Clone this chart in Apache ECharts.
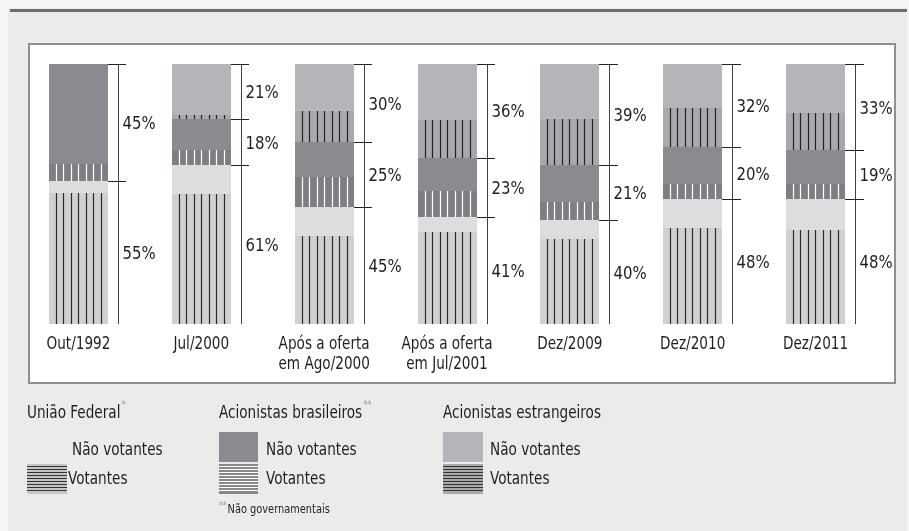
<!DOCTYPE html>
<html>
<head>
<meta charset="utf-8">
<script src="https://cdn.jsdelivr.net/npm/echarts@6/dist/echarts.min.js"></script>
<style>
html,body{margin:0;padding:0;background:#f6f6f6;}
#c{width:909px;height:531px;}
</style>
</head>
<body>
<div id="c"></div>
<script>
// ---- Data (percent of total capital) ----
const categories = ['Out/1992', 'Jul/2000', 'Após a oferta\nem Ago/2000', 'Após a oferta\nem Jul/2001', 'Dez/2009', 'Dez/2010', 'Dez/2011'];
const uniaoVotantes      = [50.5, 50, 34, 35.5, 32.7, 37, 36];
const uniaoNaoVotantes   = [4.5, 11, 11, 5.5, 7.3, 11, 12];
const brVotantes         = [6.5, 6, 11.5, 10.3, 7, 6, 6];
const brNaoVotantes      = [38.5, 12, 13.5, 12.7, 14, 14, 13];
const estVotantes        = [0, 1.5, 12, 14.5, 18, 15, 14];
const estNaoVotantes     = [0, 19.5, 18, 21.5, 21, 17, 19];
const uniaoTotal = [55, 61, 45, 41, 40, 48, 48];
const brTotal    = [45, 18, 25, 23, 21, 20, 19];
const estTotal   = [0, 21, 30, 36, 39, 32, 33];

const FONT = "'Liberation Sans Narrow','Arial Narrow','DejaVu Sans Condensed',sans-serif";
const TXT = '#1f1f1f';
const SX = 0.84;   // horizontal squeeze to mimic the condensed face
const SXN = 0.92;  // squeeze for the percentages

const mctx = document.createElement('canvas').getContext('2d');
function tw(t, s){ mctx.font = s + 'px ' + FONT; return mctx.measureText(t).width; }

const layers = [
  {name:'União Federal – Votantes', data: uniaoVotantes, fill:'#cfd0d2', line:'#2a2a2a'},
  {name:'União Federal – Não votantes', data: uniaoNaoVotantes, fill:'#dcdddf', line:null},
  {name:'Acionistas brasileiros – Votantes', data: brVotantes, fill:'#7e7f82', line:'#ffffff'},
  {name:'Acionistas brasileiros – Não votantes', data: brNaoVotantes, fill:'#8a8b8e', line:null},
  {name:'Acionistas estrangeiros – Votantes', data: estVotantes, fill:'#a7a9ac', line:'#222222'},
  {name:'Acionistas estrangeiros – Não votantes', data: estNaoVotantes, fill:'#b3b5b8', line:null}
];

const BAR_W = 59;
const series = [];
const cum = categories.map(() => 0);
layers.forEach(L => {
  const data = L.data.map((v, i) => { const lo = cum[i]; cum[i] += v; return [i, lo, cum[i]]; });
  series.push({
    type: 'custom', name: L.name, z: 3,
    data: data,
    renderItem: function(params, api){
      const i = api.value(0), lo = api.value(1), hi = api.value(2);
      if (hi - lo <= 0) return null;
      const p0 = api.coord([i, lo]), p1 = api.coord([i, hi]);
      const x = Math.round(p0[0] - BAR_W / 2);
      const y0 = Math.round(p1[1]), y1 = Math.round(p0[1]);
      const children = [{type:'rect', shape:{x:x, y:y0, width:BAR_W, height:y1 - y0}, style:{fill:L.fill}}];
      if (L.line) {
        for (let k = 0; k < 7; k++) {
          const lx = Math.round(x + 6.7 + k * 7.5) + 0.5;
          children.push({type:'line', shape:{x1:lx, y1:y0, x2:lx, y2:y1}, style:{stroke:L.line, lineWidth:1.2}});
        }
      }
      return {type:'group', children: children};
    }
  });
});

// Brackets with group percentages and category labels
const bracketData = categories.map((c, i) => {
  const u = uniaoVotantes[i] + uniaoNaoVotantes[i];
  const b = u + brVotantes[i] + brNaoVotantes[i];
  const t = b + estVotantes[i] + estNaoVotantes[i];
  return [i, u, b, t];
});
series.push({
  type:'custom', name:'brackets', z: 4,
  data: bracketData,
  renderItem: function(params, api){
    const i = api.value(0), u = api.value(1), b = api.value(2), t = api.value(3);
    const base = api.coord([i, 0]);
    const cx = base[0];
    const lx = Math.round(cx + 39.5) + 0.5;
    const yB = base[1], yU = api.coord([i, u])[1], yBr = api.coord([i, b])[1], yT = api.coord([i, t])[1];
    const ch = [{type:'line', shape:{x1:lx, y1:Math.round(yT), x2:lx, y2:Math.round(yB)}, style:{stroke:'#444', lineWidth:1}}];
    const ticks = [yT, yU];
    if (t - b > 0) ticks.push(yBr);
    ticks.forEach(ty => {
      const yy = Math.round(ty) + 0.5;
      ch.push({type:'line', shape:{x1:Math.round(cx + 29.5), y1:yy, x2:Math.round(cx + 48), y2:yy}, style:{stroke:'#222', lineWidth:1}});
    });
    const labs = [[uniaoTotal[i], yB, yU], [brTotal[i], yU, yBr], [estTotal[i], yBr, yT]];
    labs.forEach(l => {
      if (l[0] > 0) {
        ch.push({type:'text', x: lx + 4, y: (l[1] + l[2]) / 2 + 2, scaleX: SXN,
          style:{text: l[0] + '%', x:0, y:0, align:'left', verticalAlign:'middle', fill: TXT, font: '18px ' + FONT}});
      }
    });
    ch.push({type:'text', x: cx, y: yB + 10, scaleX: SX,
      style:{text: categories[i], x:0, y:0, align:'center', verticalAlign:'top', lineHeight: 20, fill: TXT, font: '18px ' + FONT}});
    return {type:'group', children: ch};
  }
});

// ---- Legend / decoration graphics ----
const g = [];
g.push({type:'rect', z:0, shape:{x:8, y:8, width:899, height:523}, style:{fill:'#ebebeb'}});
g.push({type:'rect', z:0, shape:{x:10, y:9, width:897, height:3}, style:{fill:'#6e6e70'}});
g.push({type:'rect', z:0, shape:{x:29, y:44, width:866, height:339}, style:{fill:'#ffffff', stroke:'#8f8f8f', lineWidth:2}});

function text(t, x, y, size, color){
  g.push({type:'text', z:5, x:x, y:y, scaleX: SX, style:{text:t, x:0, y:0, font: size + 'px ' + FONT, fill: color || TXT, verticalAlign:'middle', align:'left'}});
}
function stripes(x, y, w, h, bg, fg){
  g.push({type:'rect', z:5, shape:{x:x, y:y, width:w, height:h}, style:{fill:bg}});
  for (let yy = y + 2; yy < y + h - 1; yy += 3) {
    g.push({type:'line', z:6, shape:{x1:x, y1:yy + 0.5, x2:x + w, y2:yy + 0.5}, style:{stroke:fg, lineWidth:1}});
  }
}
const heads = [['União Federal', '*', 27], ['Acionistas brasileiros', '**', 219], ['Acionistas estrangeiros', '', 443]];
heads.forEach(h => {
  text(h[0], h[2], 413, 18);
  if (h[1]) text(h[1], h[2] + tw(h[0], 18) * SX + 1, 405, 11, '#9a9a9a');
});
// União Federal
text('Não votantes', 72, 450, 18);
stripes(27, 464, 40, 30, '#c6c6c6', '#333333');
text('Votantes', 68, 479, 18);
// Brasileiros
g.push({type:'rect', z:5, shape:{x:219, y:432, width:39, height:30}, style:{fill:'#8a8b8e'}});
text('Não votantes', 266, 450, 18);
stripes(219, 464, 39, 30, '#888888', '#ffffff');
text('Votantes', 266, 479, 18);
text('**', 219, 506, 10, '#9a9a9a');
text('Não governamentais', 219 + tw('**', 10) * SX + 1, 510, 13);
// Estrangeiros
g.push({type:'rect', z:5, shape:{x:443, y:432, width:40, height:30}, style:{fill:'#b3b5b8'}});
text('Não votantes', 490, 450, 18);
stripes(443, 464, 40, 30, '#aaaaaa', '#333333');
text('Votantes', 490, 479, 18);

const chart = echarts.init(document.getElementById('c'), null, {renderer:'canvas'});
chart.setOption({
  animation: false,
  backgroundColor: '#f6f6f6',
  grid: {left: 17, top: 64, width: 860, height: 260},
  xAxis: {
    type:'category', data: categories, boundaryGap: true,
    axisLine:{show:false}, axisTick:{show:false}, splitLine:{show:false},
    axisLabel:{show:false}
  },
  yAxis: {type:'value', min:0, max:100, show:false},
  graphic: {elements: g},
  series: series
});
</script>
</body>
</html>
